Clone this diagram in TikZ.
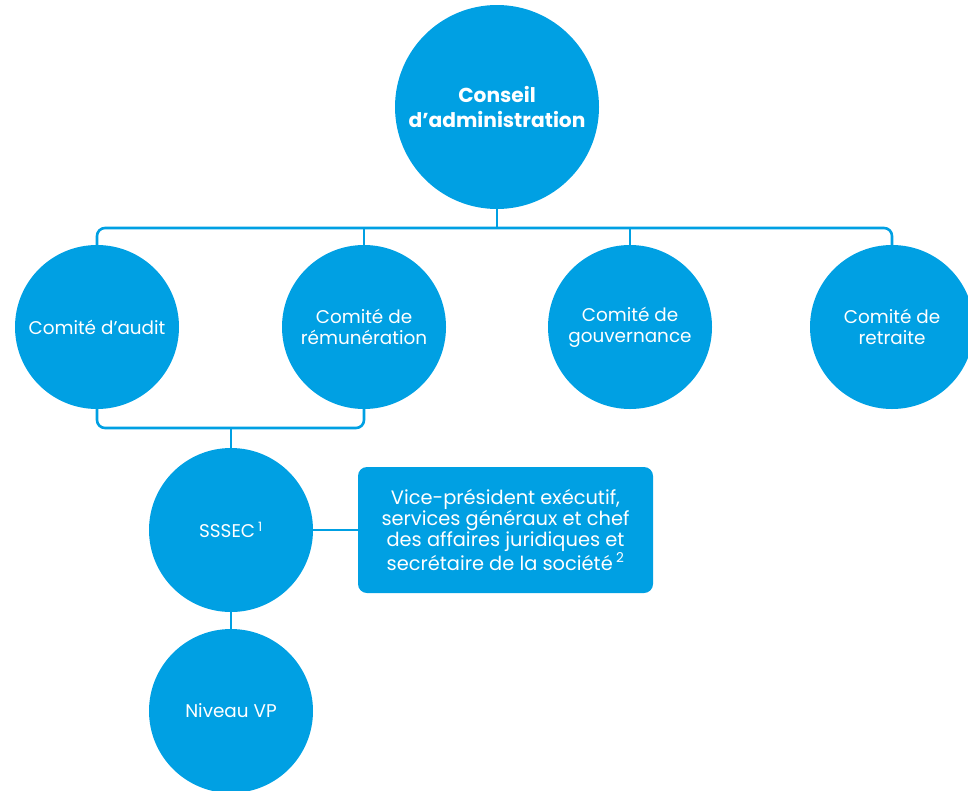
\documentclass[tikz,border=0pt]{standalone}
\usepackage{fontspec}
\setmainfont{Poppins}
\usetikzlibrary{positioning}
\definecolor{orgblue}{RGB}{0,160,227}
\tikzset{
    every node/.style={font=\fontsize{18.4}{21}\selectfont},
    main node/.style={circle,fill=orgblue,text=white,align=center,inner sep=0pt,minimum size=164pt},
    big node/.style={main node,minimum size=204pt,font=\fontsize{20.2}{25}\selectfont\bfseries},
    info node/.style={rectangle,rounded corners=9pt,fill=orgblue,text=white,align=center,minimum width=295pt,minimum height=126pt,font=\fontsize{19.4}{21}\selectfont},
    link/.style={draw=orgblue,line width=2.6pt,rounded corners=8pt}
}
\begin{document}
\begin{tikzpicture}[x=1pt,y=1pt]

    \clip (0,0) rectangle (968,-790);

    \node[big node] (conseil) at (497,-107) {Conseil\\d'administration};

    \node[main node] (audit) at (97,-327) {Comité d'audit};
    \node[main node] (remun) at (364,-327) {Comité de\\rémunération};
    \node[main node] (gouv) at (630,-327) {Comité de\\gouvernance};
    \node[main node] (retraite) at (892,-327) {Comité de\\retraite};

    \node[main node] (sssec) at (231,-530) {SSSEC\,\textsuperscript{1}};
    \node[info node] (vpexec) at (505.5,-530) {Vice-président exécutif,\\services généraux et chef\\des affaires juridiques et\\secrétaire de la société\,\textsuperscript{2}};
    \node[main node] (niveauvp) at (231,-711) {Niveau VP};

    \coordinate (bus) at (497,-228);
    \coordinate (join) at (231,-428);

    % conseil -> comites
    \draw[link] (conseil) -- (bus);
    \draw[link] (audit.north) |- (bus) -| (retraite.north);
    \draw[link] (remun.north) -- (remun.north |- bus);
    \draw[link] (gouv.north) -- (gouv.north |- bus);

    % comites -> SSSEC
    \draw[link] (audit.south) |- (join) -| (remun.south);
    \draw[link] (join) -- (sssec);
    \draw[link] (sssec) -- (vpexec);
    \draw[link] (sssec) -- (niveauvp);

\end{tikzpicture}
\end{document}
